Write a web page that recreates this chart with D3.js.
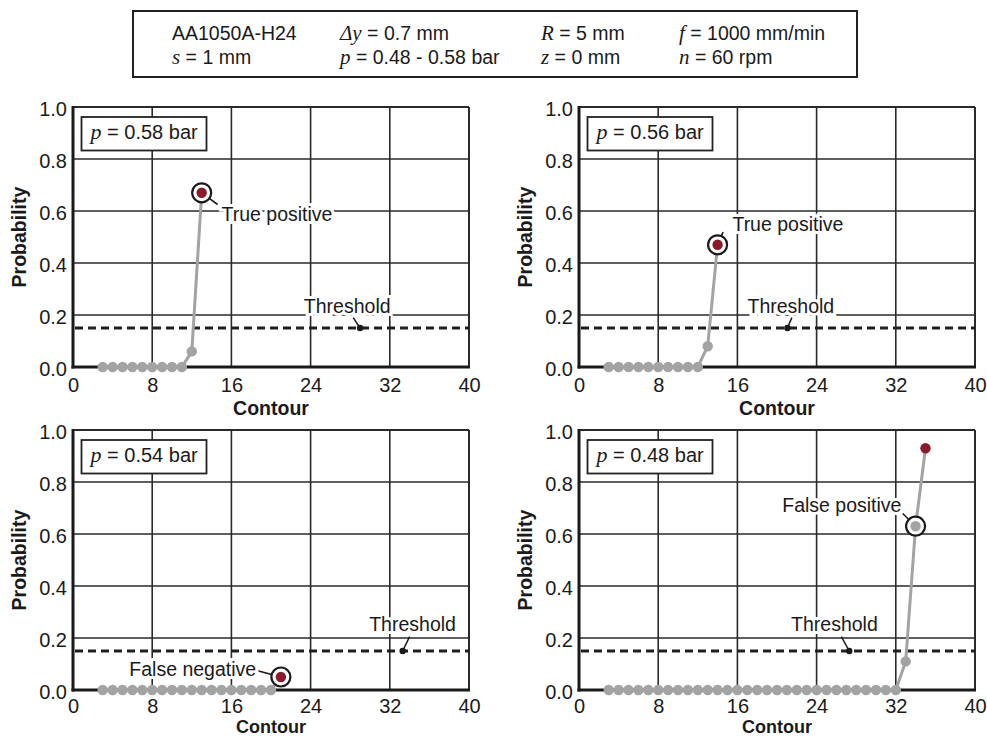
<!DOCTYPE html>
<html>
<head>
<meta charset="utf-8">
<script src="https://cdn.jsdelivr.net/npm/d3@7"></script>
<style>
body { margin: 0; background: #fff; }
text { font-family: "Liberation Sans", Arial, sans-serif; fill: #1a1a1a; }
.it { font-family: "Liberation Serif", "Times New Roman", serif; font-style: italic; }
</style>
</head>
<body>
<svg id="chart" width="987" height="737"></svg>
<script>
// tick labels
const xTicks = [0, 8, 16, 24, 32, 40];
const yTicks = [0, 0.2, 0.4, 0.6, 0.8, 1.0];
const threshold = 0.15;

// one series per pressure
const pressures = ["0.58", "0.56", "0.54", "0.48"];
const contour058 = [3, 4, 5, 6, 7, 8, 9, 10, 11, 12, 13];
const prob058 = [0, 0, 0, 0, 0, 0, 0, 0, 0, 0.06, 0.67];
const contour056 = [3, 4, 5, 6, 7, 8, 9, 10, 11, 12, 13, 14];
const prob056 = [0, 0, 0, 0, 0, 0, 0, 0, 0, 0, 0.08, 0.47];
const contour054 = [3, 4, 5, 6, 7, 8, 9, 10, 11, 12, 13, 14, 15, 16, 17, 18, 19, 20, 21];
const prob054 = [0, 0, 0, 0, 0, 0, 0, 0, 0, 0, 0, 0, 0, 0, 0, 0, 0, 0, 0.05];
const contour048 = [3, 4, 5, 6, 7, 8, 9, 10, 11, 12, 13, 14, 15, 16, 17, 18, 19, 20, 21, 22, 23, 24, 25, 26, 27, 28, 29, 30, 31, 32, 33, 34, 35];
const prob048 = [0, 0, 0, 0, 0, 0, 0, 0, 0, 0, 0, 0, 0, 0, 0, 0, 0, 0, 0, 0, 0, 0, 0, 0, 0, 0, 0, 0, 0, 0, 0.11, 0.63, 0.93];

// parameter box text: [symbol, rest]
const infoRow1 = [["", "AA1050A-H24"], ["Δy", " = 0.7 mm"], ["R", " = 5 mm"], ["f", " = 1000 mm/min"]];
const infoRow2 = [["s", " = 1 mm"], ["p", " = 0.48 - 0.58 bar"], ["z", " = 0 mm"], ["n", " = 60 rpm"]];

const svg = d3.select("#chart");
const W = 396, H = 260;
const grey = "#a3a3a3", red = "#8b1a2b", ink = "#1a1a1a";

// ---- parameter box ----
svg.append("rect").attr("x", 133).attr("y", 11).attr("width", 724).attr("height", 66)
  .attr("fill", "none").attr("stroke", "#222").attr("stroke-width", 2);
const colX = [172, 340, 541, 679];
[[infoRow1, 40], [infoRow2, 64]].forEach(([row, by]) => {
  row.forEach((c, i) => {
    const t = svg.append("text").attr("x", colX[i]).attr("y", by).attr("font-size", 19.5);
    if (c[0]) t.append("tspan").attr("class", "it").attr("font-size", 21).text(c[0]);
    t.append("tspan").text(c[1]);
  });
});

const panels = [
  { xs: contour058, ys: prob058, left: 73, top: 107, ring: 10,
    note: "True positive", noteX: 15.0, noteY: 0.56, anchor: "start", lead: [14.6, 0.625],
    thrX: 27.7, thrY: 0.208, thrDot: 29, thrLead: [28.3, 0.19] },
  { xs: contour056, ys: prob056, left: 579, top: 107, ring: 11,
    note: "True positive", noteX: 15.5, noteY: 0.522, anchor: "start", lead: [14.55, 0.519],
    thrX: 21.4, thrY: 0.208, thrDot: 21.05, thrLead: [21.5, 0.19] },
  { xs: contour054, ys: prob054, left: 73, top: 430, ring: 18,
    note: "False negative", noteX: 18.5, noteY: 0.055, anchor: "end", lead: [18.65, 0.074],
    thrX: 34.3, thrY: 0.226, thrDot: 33.3, thrLead: [34.0, 0.205] },
  { xs: contour048, ys: prob048, left: 579, top: 430, ring: 31,
    note: "False positive", noteX: 32.57, noteY: 0.685, anchor: "end", lead: [32.7, 0.679],
    thrX: 25.8, thrY: 0.226, thrDot: 27.3, thrLead: [26.5, 0.205] }
];

panels.forEach((P, k) => {
  const g = svg.append("g").attr("transform", `translate(${P.left},${P.top})`);
  const x = d3.scaleLinear().domain([0, 40]).range([0, W]);
  const y = d3.scaleLinear().domain([0, 1]).range([H, 0]);
  const lowRow = P.top > 300;   // lower row sits against the page bottom

  // grid
  g.selectAll("line.gx").data(xTicks.slice(1)).enter().append("line")
    .attr("x1", d => x(d)).attr("x2", d => x(d)).attr("y1", 0).attr("y2", H)
    .attr("stroke", "#2a2a2a").attr("stroke-width", d => d === 40 ? 2 : 1.6);
  g.selectAll("line.gy").data(yTicks.slice(1)).enter().append("line")
    .attr("y1", d => y(d)).attr("y2", d => y(d)).attr("x1", 0).attr("x2", W)
    .attr("stroke", "#2a2a2a").attr("stroke-width", d => d === 1 ? 2 : 1.6);

  // axes lines
  g.append("line").attr("x1", 0).attr("x2", 0).attr("y1", -1).attr("y2", H + 1.5)
    .attr("stroke", ink).attr("stroke-width", 3);
  g.append("line").attr("x1", -1.5).attr("x2", W + 1).attr("y1", H).attr("y2", H)
    .attr("stroke", ink).attr("stroke-width", 3);

  // tick labels
  const ax = g.append("g").attr("transform", `translate(0,${H})`)
    .call(d3.axisBottom(x).tickValues(xTicks).tickSize(0).tickPadding(lowRow ? 8.5 : 11));
  const ay = g.append("g")
    .call(d3.axisLeft(y).tickValues(yTicks).tickSize(0).tickPadding(6).tickFormat(d3.format(".1f")));
  [ax, ay].forEach(a => {
    a.select(".domain").remove();
    a.selectAll("text").attr("font-size", 20).attr("fill", ink)
      .attr("font-family", "'Liberation Sans', Arial, sans-serif");
  });
  ay.selectAll("text").attr("dy", "0.4em");

  g.append("text").attr("x", W / 2).attr("y", lowRow ? 737 - P.top - 4 : H + 48)
    .attr("text-anchor", "middle")
    .attr("font-size", lowRow ? 18 : 19.5).attr("font-weight", "bold").text("Contour");
  g.append("text").attr("transform", `translate(-47,${H / 2}) rotate(-90)`)
    .attr("text-anchor", "middle").attr("font-size", 19.5).attr("font-weight", "bold").text("Probability");

  // threshold
  g.append("line").attr("x1", 2).attr("x2", W).attr("y1", y(threshold)).attr("y2", y(threshold))
    .attr("stroke", "#1f1f1f").attr("stroke-width", 3).attr("stroke-dasharray", "8,5");
  g.append("text").attr("x", x(P.thrX)).attr("y", y(P.thrY)).attr("text-anchor", "middle")
    .attr("font-size", 19.5).attr("stroke", "#fff").attr("stroke-width", 6)
    .attr("paint-order", "stroke").text("Threshold");
  g.append("line").attr("x1", x(P.thrDot)).attr("y1", y(threshold))
    .attr("x2", x(P.thrLead[0])).attr("y2", y(P.thrLead[1]))
    .attr("stroke", ink).attr("stroke-width", 1.5);
  g.append("circle").attr("cx", x(P.thrDot)).attr("cy", y(threshold)).attr("r", 3.2).attr("fill", ink);

  // series
  const pts = P.xs.map((c, i) => ({ c: c, p: P.ys[i], i: i }));
  g.append("path").datum(pts)
    .attr("d", d3.line().x(d => x(d.c)).y(d => y(d.p)))
    .attr("fill", "none").attr("stroke", grey).attr("stroke-width", 3);
  const last = pts.length - 1;
  g.selectAll("circle.pt").data(pts).enter().append("circle").attr("class", "pt")
    .attr("cx", d => x(d.c)).attr("cy", d => y(d.p)).attr("r", 5.2)
    .attr("fill", d => d.i === last ? red : grey);

  // annotation: ring, leader, note
  const rc = pts[P.ring];
  const cx = x(rc.c), cy = y(rc.p), r = 9.5;
  const lx = x(P.lead[0]), ly = y(P.lead[1]);
  const dist = Math.hypot(lx - cx, ly - cy);
  g.append("line").attr("x1", cx + (lx - cx) * r / dist).attr("y1", cy + (ly - cy) * r / dist)
    .attr("x2", lx).attr("y2", ly).attr("stroke", ink).attr("stroke-width", 1.6);
  g.append("circle").attr("cx", cx).attr("cy", cy).attr("r", r)
    .attr("fill", "#fff").attr("stroke", ink).attr("stroke-width", 2.2);
  g.append("circle").attr("cx", cx).attr("cy", cy).attr("r", 5.2)
    .attr("fill", P.ring === last ? red : grey);
  g.append("text").attr("x", x(P.noteX)).attr("y", y(P.noteY)).attr("text-anchor", P.anchor)
    .attr("font-size", 19.5).attr("stroke", "#fff").attr("stroke-width", 6)
    .attr("paint-order", "stroke").text(P.note);

  // pressure label box
  g.append("rect").attr("x", 8.5).attr("y", 10).attr("width", 125).attr("height", 33.5)
    .attr("fill", "#fff").attr("stroke", "#222").attr("stroke-width", 1.8);
  const lt = g.append("text").attr("x", 17.5).attr("y", 32).attr("font-size", 20);
  lt.append("tspan").attr("class", "it").attr("font-size", 22).text("p");
  lt.append("tspan").text(` = ${pressures[k]} bar`);
});
</script>
</body>
</html>
